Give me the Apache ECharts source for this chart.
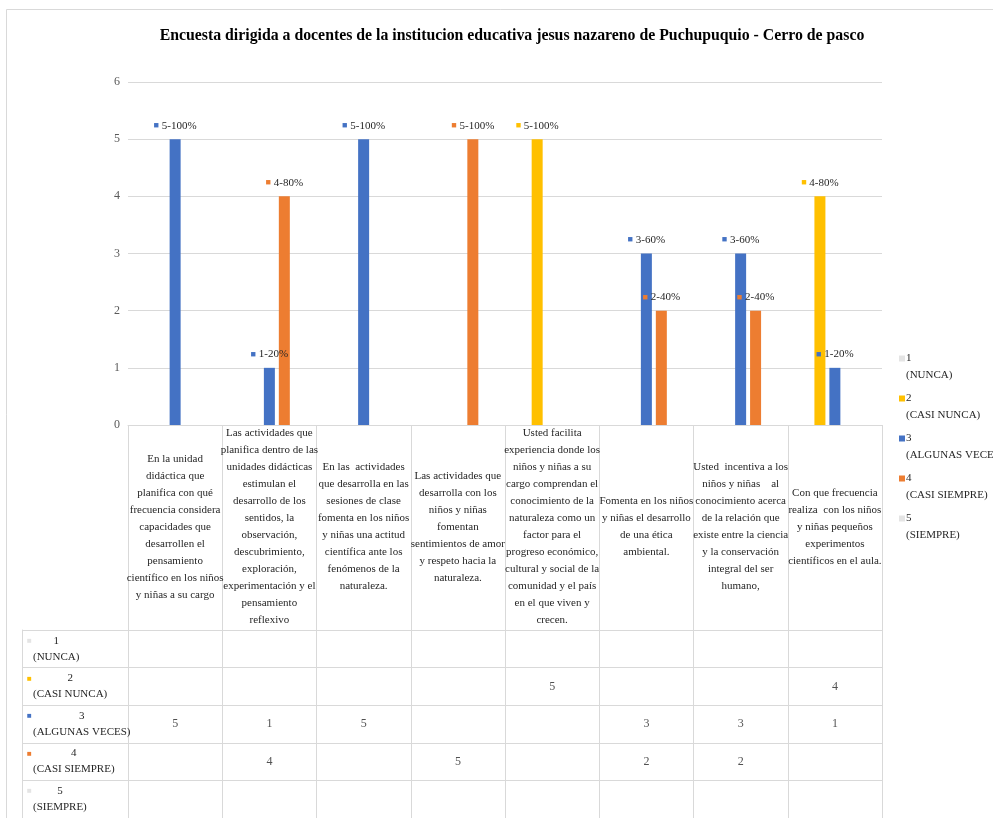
<!DOCTYPE html>
<html>
<head>
<meta charset="utf-8">
<script src="https://cdn.jsdelivr.net/npm/echarts@6/dist/echarts.min.js"></script>
<style>
  html, body { margin: 0; padding: 0; background: #fff; }
  #main { width: 993px; height: 818px; }
</style>
</head>
<body>
<div id="main"></div>
<script>
// preguntas de la encuesta (eje x)
const categories = [
  "En la unidad\ndidáctica que\nplanifica con qué\nfrecuencia considera\ncapacidades que\ndesarrollen el\npensamiento\ncientífico en los niños\ny niñas a su cargo",
  "Las actividades que\nplanifica dentro de las\nunidades didácticas\nestimulan el\ndesarrollo de los\nsentidos, la\nobservación,\ndescubrimiento,\nexploración,\nexperimentación y el\npensamiento\nreflexivo",
  "En las  actividades\nque desarrolla en las\nsesiones de clase\nfomenta en los niños\ny niñas una actitud\ncientífica ante los\nfenómenos de la\nnaturaleza.",
  "Las actividades que\ndesarrolla con los\nniños y niñas\nfomentan\nsentimientos de amor\ny respeto hacia la\nnaturaleza.",
  "Usted facilita\nexperiencia donde los\nniños y niñas a su\ncargo comprendan el\nconocimiento de la\nnaturaleza como un\nfactor para el\nprogreso económico,\ncultural y social de la\ncomunidad y el país\nen el que viven y\ncrecen.",
  "Fomenta en los niños\ny niñas el desarrollo\nde una ética\nambiental.",
  "Usted  incentiva a los\nniños y niñas    al\nconocimiento acerca\nde la relación que\nexiste entre la ciencia\ny la conservación\nintegral del ser\nhumano,",
  "Con que frecuencia\nrealiza  con los niños\ny niñas pequeños\nexperimentos\ncientíficos en el aula."
];

const ratingNums = ["1", "2", "3", "4", "5"];
const ratingLabels = ["(NUNCA)", "(CASI NUNCA)", "(ALGUNAS VECES)", "(CASI SIEMPRE)", "(SIEMPRE)"];

// respuestas por escala
const nunca = [null, null, null, null, null, null, null, null];
const casiNunca = [null, null, null, null, 5, null, null, 4];
const algunasVeces = [5, 1, 5, null, null, 3, 3, 1];
const casiSiempre = [null, 4, null, 5, null, 2, 2, null];
const siempre = [null, null, null, null, null, null, null, null];
const totalDocentes = 5;

const yTicks = [0, 1, 2, 3, 4, 5, 6];

const seriesValues = [nunca, casiNunca, algunasVeces, casiSiempre, siempre];
const colors = ["#e4e4e4", "#ffc000", "#4472c4", "#ed7d31", "#e4e4e4"];
const FONT = '"Liberation Serif", "Times New Roman", serif';
const LINE = "#d9d9d9";
const TXT = "#262626";

const ctx = document.createElement("canvas").getContext("2d");
ctx.font = '11px "Liberation Serif"';
function textWidth(s) { return ctx.measureText(s).width; }

let myChart = echarts.init(document.getElementById("main"));

// cabeceras de filas de la tabla
let rowRich = {
  l: { fontSize: 11, lineHeight: 16, padding: [0, 0, 0, 6], color: TXT, fontFamily: FONT }
};
ratingNums.forEach((n, k) => {
  rowRich["sq" + k] = { color: colors[k], fontSize: 8, width: 6, lineHeight: 16 };
  rowRich["n" + k] = {
    width: textWidth(ratingLabels[k]), align: "center",
    fontSize: 11, lineHeight: 16, color: TXT, fontFamily: FONT
  };
});

let names = ratingNums.map((n, k) => n + "\n" + ratingLabels[k]);

let series = seriesValues.map((vals, k) => ({
  name: names[k],
  type: "bar",
  xAxisIndex: 0,
  yAxisIndex: 0,
  barWidth: 11,
  barGap: "36%",
  data: vals,
  itemStyle: { color: colors[k] },
  label: {
    show: true,
    position: "top",
    distance: 8,
    fontFamily: FONT,
    fontSize: 11,
    color: TXT,
    formatter: p => p.value == null ? "" :
      "{s|■} " + p.value + "-" + Math.round(p.value / totalDocentes * 100) + "%",
    rich: { s: { color: colors[k], fontSize: 9 } }
  }
}));

// valores de la tabla de datos
let tableData = [];
seriesValues.forEach((vals, k) => {
  vals.forEach((v, i) => { if (v != null) tableData.push([i, k, v]); });
});
series.push({
  type: "scatter",
  xAxisIndex: 1,
  yAxisIndex: 1,
  symbolSize: 0,
  silent: true,
  data: tableData,
  label: {
    show: true,
    position: "inside",
    fontFamily: FONT,
    fontSize: 12,
    color: TXT,
    formatter: p => p.value[2]
  }
});

let option = {
  backgroundColor: "#fff",
  animation: false,
  title: {
    text: "Encuesta dirigida a docentes de la institucion educativa jesus nazareno de Puchupuquio - Cerro de pasco",
    left: 507,
    top: 23,
    textAlign: "center",
    textStyle: { fontFamily: FONT, fontSize: 15.8, fontWeight: "bold", color: "#000" }
  },
  legend: {
    orient: "vertical",
    left: 894,
    top: 345,
    data: names,
    icon: "path://M0,0h6v6h-6z M0,23",
    itemWidth: 6,
    itemHeight: 23,
    itemGap: 6,
    textStyle: { fontFamily: FONT, fontSize: 11, lineHeight: 17, color: TXT, padding: [0, 0, 0, -4] }
  },
  graphic: [{
    type: "rect",
    shape: { x: 6.5, y: 9.5, width: 1200, height: 1200 },
    style: { fill: "none", stroke: LINE, lineWidth: 1 },
    silent: true,
    z: -1
  }],
  grid: [
    { left: 128, right: 111, top: 82, height: 343 },
    { left: 128, right: 111, top: 630, height: 190 }
  ],
  xAxis: [
    {
      gridIndex: 0,
      type: "category",
      data: categories,
      axisLine: { show: true, lineStyle: { color: LINE } },
      axisTick: { show: true, length: 205, interval: 0, lineStyle: { color: LINE } },
      axisLabel: {
        interval: 0,
        margin: 102,
        verticalAlign: "middle",
        fontFamily: FONT,
        fontSize: 11,
        lineHeight: 17,
        color: TXT
      }
    },
    {
      gridIndex: 1,
      type: "category",
      position: "top",
      data: categories,
      axisLine: { show: true, lineStyle: { color: LINE } },
      axisTick: { show: false },
      axisLabel: { show: false },
      splitLine: { show: true, interval: 0, lineStyle: { color: LINE } }
    }
  ],
  yAxis: [
    {
      gridIndex: 0,
      type: "value",
      min: yTicks[0],
      max: yTicks[yTicks.length - 1],
      interval: 1,
      axisLine: { show: false },
      axisTick: { show: false },
      axisLabel: { margin: 8, fontFamily: FONT, fontSize: 12, color: "#595959" },
      splitLine: { lineStyle: { color: LINE } }
    },
    {
      gridIndex: 1,
      type: "category",
      inverse: true,
      data: ratingLabels,
      axisLine: { show: true, lineStyle: { color: LINE } },
      axisTick: { show: true, length: 106, interval: 0, lineStyle: { color: LINE } },
      axisLabel: {
        interval: 0,
        margin: 101,
        align: "left",
        formatter: (v, idx) => "{sq" + idx + "|■}{n" + idx + "|" + ratingNums[idx] + "}\n{l|" + ratingLabels[idx] + "}",
        rich: rowRich
      },
      splitLine: { show: true, interval: 0, lineStyle: { color: LINE } }
    },
    {
      gridIndex: 1,
      type: "category",
      inverse: true,
      position: "left",
      offset: 106,
      data: ratingLabels,
      axisLine: { show: true, lineStyle: { color: LINE } },
      axisTick: { show: false },
      axisLabel: { show: false },
      splitLine: { show: false }
    }
  ],
  series: series
};

myChart.setOption(option);
</script>
</body>
</html>
